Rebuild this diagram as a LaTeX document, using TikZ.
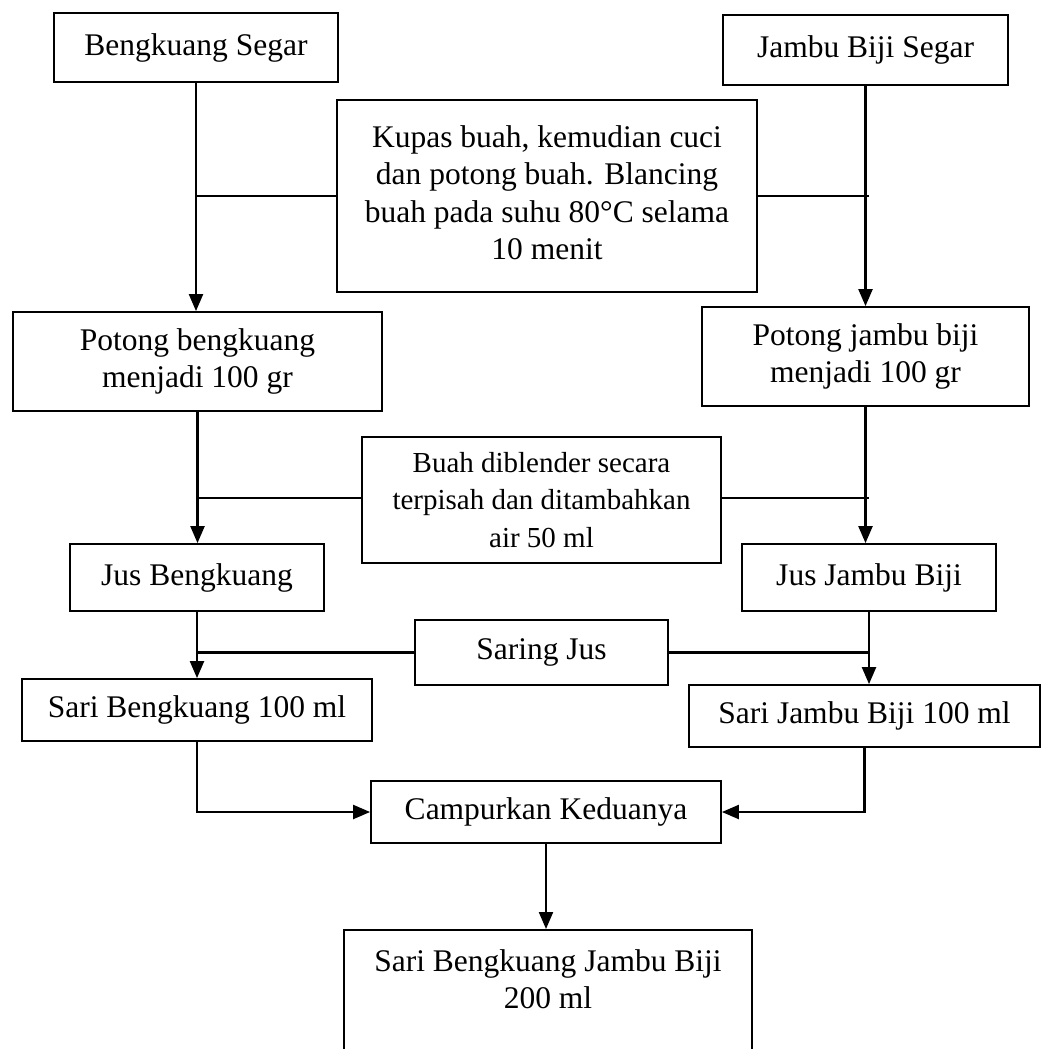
\documentclass[tikz,border=0pt]{standalone}
\usepackage{fontspec}
\setmainfont{Liberation Serif}
\usetikzlibrary{arrows.meta}

\begin{document}
\begin{tikzpicture}[x=1pt,y=-1pt,
  box/.style={draw,line width=1.8pt,inner sep=0pt,align=center,
              font=\fontsize{31.5}{37.5}\selectfont},
  link/.style={line width=2.2pt},
  arr/.style={link,-{Triangle[length=17pt,width=14pt]}}]
  \clip (0,0) rectangle (1047,1049);
  \useasboundingbox (0,0) rectangle (1047,1049);

  % raw materials
  \node[box,minimum width=284,minimum height=69] (b1) at (196,47.5) {Bengkuang Segar};
  \node[box,minimum width=285,minimum height=70] (j1) at (865.5,50) {Jambu Biji Segar};

  % preparation step
  \node[box,minimum width=420,minimum height=192] (kup) at (547,196)
    {\raisebox{7pt}{\begin{tabular}{@{}c@{}}Kupas buah, kemudian cuci\\dan potong buah. Blancing\\buah pada suhu 80\textdegree C selama\\10 menit\end{tabular}}};
  \coordinate (kupR) at (869,196);

  \node[box,minimum width=369,minimum height=99] (pb) at (197.5,361.5) {Potong bengkuang\\menjadi 100 gr};
  \node[box,minimum width=327,minimum height=99] (pj) at (865.5,356.5) {Potong jambu biji\\menjadi 100 gr};

  % blending
  \node[box,minimum width=359,minimum height=126,font=\fontsize{29}{37.5}\selectfont] (blend) at (541.5,500)
    {Buah diblender secara\\terpisah dan ditambahkan\\air 50 ml};
  \coordinate (blendR) at (869,498);

  \node[box,minimum width=254,minimum height=67] (jb) at (197,577.5) {Jus Bengkuang};
  \node[box,minimum width=254,minimum height=67] (jj) at (869,577.5) {Jus Jambu Biji};

  % filtering
  \node[box,minimum width=253,minimum height=65] (sar) at (541.5,652.5) {Saring Jus};

  \node[box,minimum width=350,minimum height=62] (sb) at (197,710) {Sari Bengkuang 100 ml};
  \node[box,minimum width=351,minimum height=62] (sj) at (864.5,716) {Sari Jambu Biji 100 ml};

  % mixing and product
  \node[box,minimum width=350,minimum height=62] (cmp) at (546,812) {Campurkan Keduanya};
  \node[box,anchor=north,minimum width=408,minimum height=170] (fin) at (548,929) {};
  \node[align=center,inner sep=0pt,font=\fontsize{31.5}{37.5}\selectfont] (fintxt) at (548,979)
    {Sari Bengkuang Jambu Biji\\200 ml};

  % main flow, left column
  \draw[arr] (b1.south) -- (b1.south |- pb.north);
  \draw[arr] (pb.south) -- (pb.south |- jb.north);
  \draw[arr] (jb.south) -- (jb.south |- sb.north);

  % main flow, right column
  \draw[arr] (j1.south) -- (j1.south |- pj.north);
  \draw[arr] (pj.south) -- (pj.south |- jj.north);
  \draw[arr] (jj.south) -- (jj.south |- sj.north);

  % process steps joined to both columns
  \draw[link] (kup.west) -- (kup.west -| b1.south);
  \draw[link] (kup.east) -- (kupR);
  \draw[link] (blend.west |- blendR) -- (blendR -| pb.south);
  \draw[link] (blend.east |- blendR) -- (blendR);
  \draw[link] (sar.west) -- (sar.west -| jb.south);
  \draw[link] (sar.east) -- (sar.east -| jj.south);

  % merging
  \draw[arr] (sb.south) |- (cmp.west);
  \draw[arr] (sj.south) |- (cmp.east);
  \draw[arr] (cmp.south) -- (cmp.south |- fin.north);
\end{tikzpicture}
\end{document}
